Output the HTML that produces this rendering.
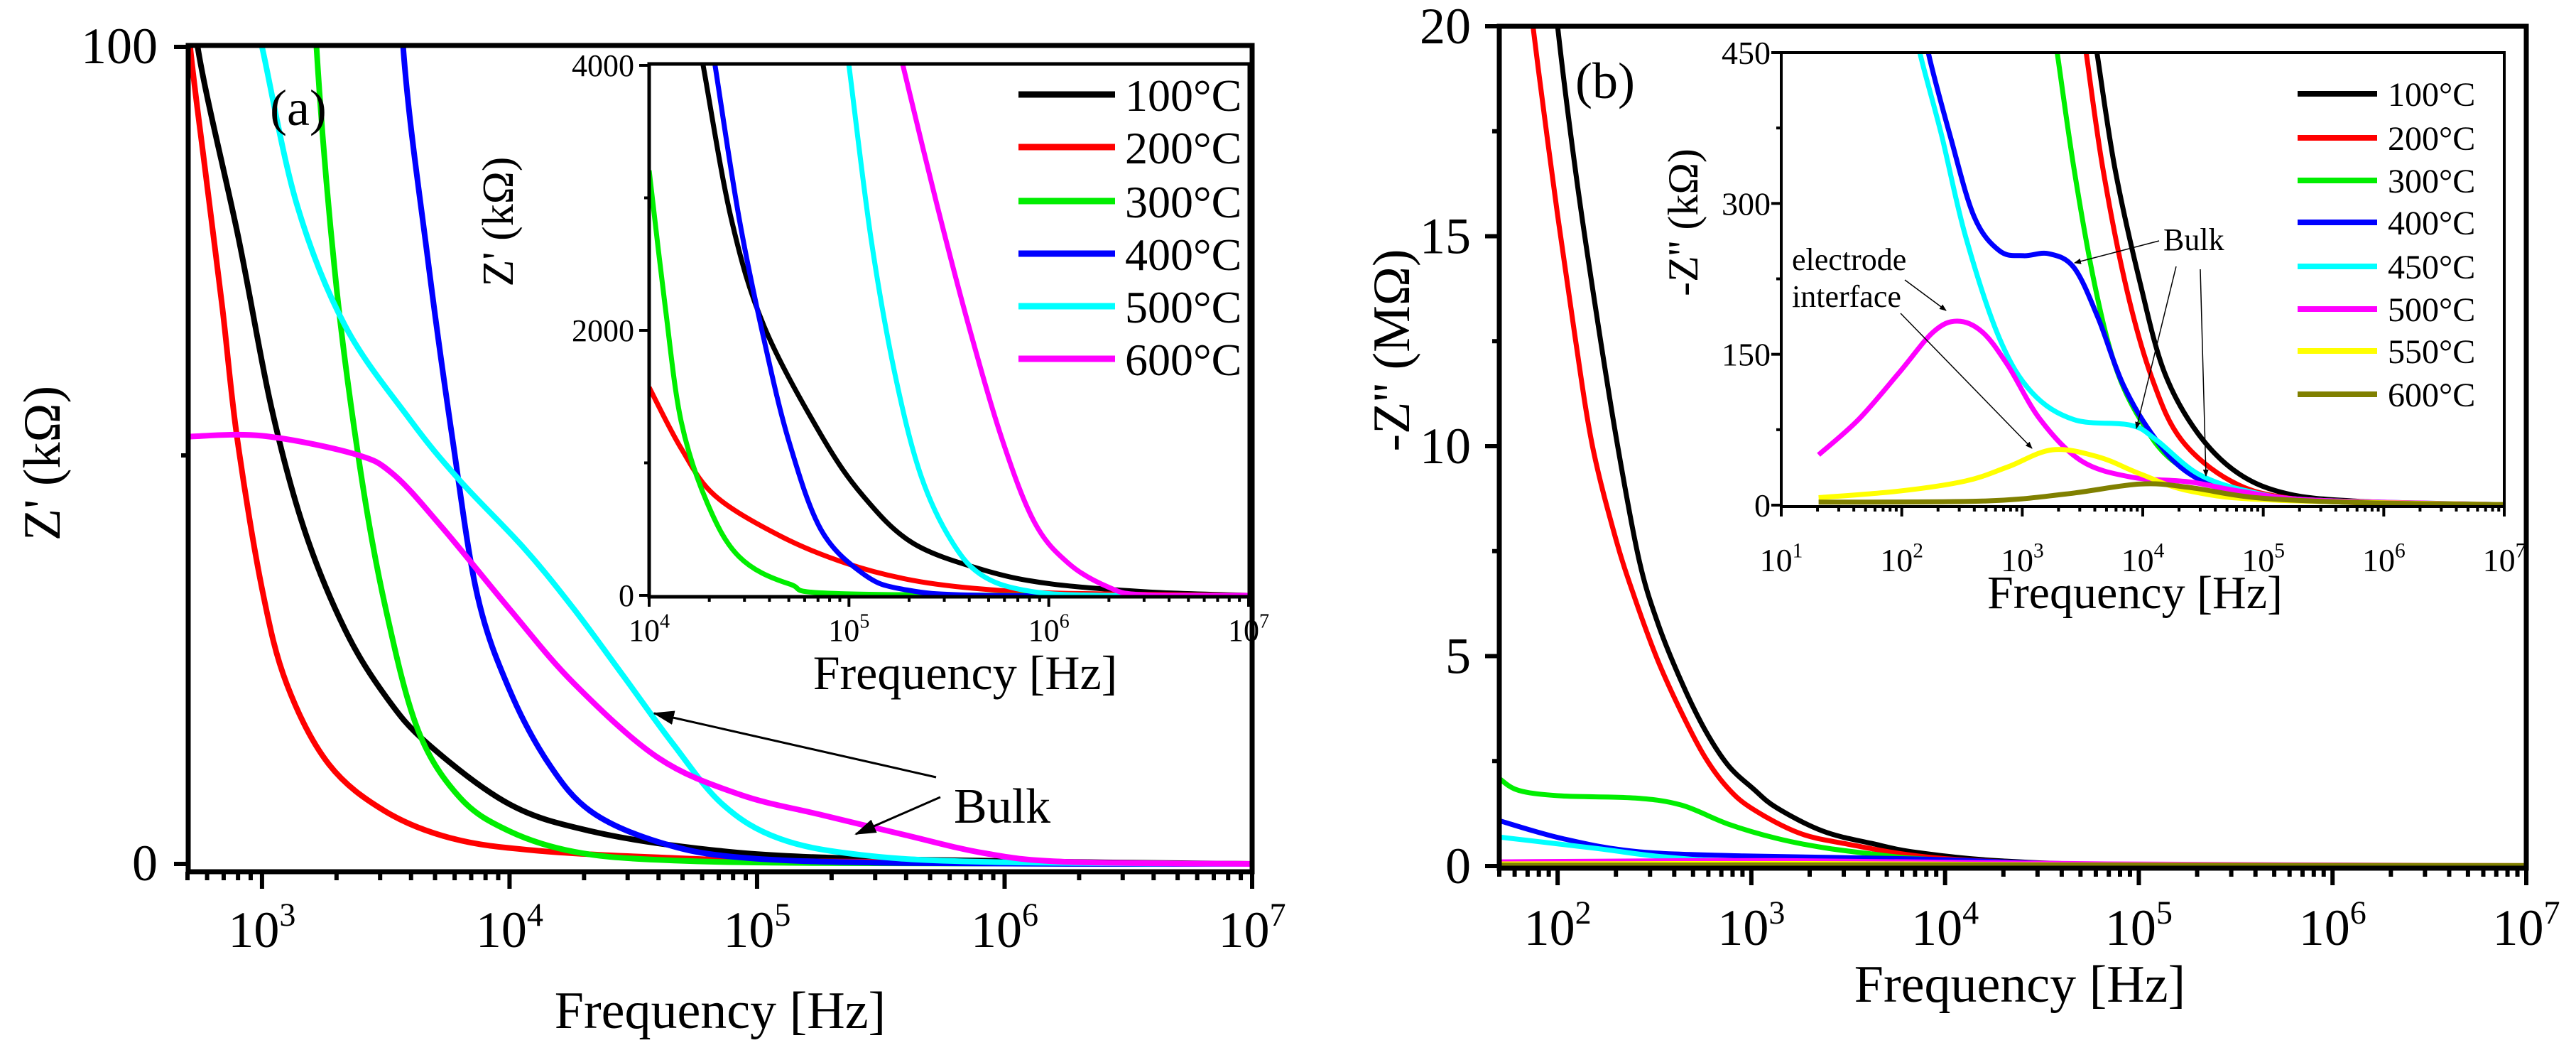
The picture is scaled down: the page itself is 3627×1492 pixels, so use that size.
<!DOCTYPE html>
<html><head><meta charset="utf-8">
<style>
html,body{margin:0;padding:0;background:#fff;}
svg{display:block;font-family:"Liberation Serif","Times New Roman",serif;}
text{font-family:"Liberation Serif","Times New Roman",serif;}
</style></head>
<body>
<svg id="fig" width="3627" height="1492" viewBox="0 0 3627 1492" xmlns="http://www.w3.org/2000/svg" font-family="Liberation Serif, serif">
<defs>
<clipPath id="clipA"><rect x="265" y="64" width="1498" height="1163"/></clipPath>
<clipPath id="clipAi"><rect x="914" y="90" width="845" height="750"/></clipPath>
<clipPath id="clipB"><rect x="2111" y="37" width="1446" height="1185"/></clipPath>
<clipPath id="clipBi"><rect x="2508" y="74" width="1018" height="639"/></clipPath>
<marker id="arr" markerWidth="10" markerHeight="8" refX="9" refY="4" orient="auto" markerUnits="userSpaceOnUse"><path d="M0,0 L10,4 L0,8 z" fill="#000"/></marker>
<marker id="arrBig" markerWidth="30" markerHeight="20" refX="28" refY="10" orient="auto" markerUnits="userSpaceOnUse"><path d="M0,0 L30,10 L0,20 z" fill="#000"/></marker>
</defs>
<g id="root" font-family="Liberation Serif, serif"></g>
</svg>
<script>
// ---------- DATA (log10 frequency, value) ----------
const colorsA = ["#000000","#ff0000","#00ee00","#0000ff","#00ffff","#ff00ff"];
const labelsA = ["100°C","200°C","300°C","400°C","500°C","600°C"];
// Panel (a) main: Z' in kOhm
const a100x=[2.70,2.74,2.905,3.037,3.17,3.335,3.50,3.67,4.0,4.33,4.76,5.26,6.25,7.0];
const a100y=[115,100,76.6,56,41,28.7,20.5,14.7,7.3,4.0,1.9,0.8,0.25,0];
const a200x=[2.69,2.71,2.77,2.84,2.90,3.0,3.1,3.27,3.5,3.77,4.1,4.6,5.26,7.0];
const a200y=[110,100,85,68,52,33.7,22,12.2,6.4,3.1,1.65,0.8,0.3,0];
const a300x=[3.18,3.22,3.30,3.40,3.50,3.63,3.80,4.0,4.26,4.6,5.26,7.0];
const a300y=[130,100,70.8,47.7,31.2,16.4,8.1,4,1.5,0.5,0.1,0];
const a400x=[3.53,3.57,3.67,3.77,3.87,4.0,4.16,4.33,4.6,4.93,5.59,7.0];
const a400y=[130,100,74,51.9,32.9,21.3,12.2,6.4,2.7,0.8,0.1,0];
const a500x=[2.95,3.0,3.14,3.335,3.60,3.80,4.06,4.26,4.46,4.66,4.86,5.09,5.42,5.92,7.0];
const a500y=[106,100,80.8,65.9,54.3,46.9,38.6,31.2,23,14.7,7.3,3.1,1.1,0.25,0];
const a600x=[2.70,3.0,3.37,3.53,3.73,4.0,4.26,4.6,4.93,5.26,5.59,5.92,6.25,7.0];
const a600y=[52.3,52.4,50.2,47.7,41.1,31.2,22.1,13,8.5,6,3.6,1.3,0.25,0];
// Panel (a) inset: Z' in kOhm
const ai100x=[4.22,4.27,4.41,4.575,4.86,5.07,5.32,5.68,6.01,6.5,7.0];
const ai100y=[4400,4000,2849,2031,1212,752,394,189,87,26,0];
const ai200x=[4.0,4.16,4.33,4.66,4.99,5.32,5.68,6.1,7.0];
const ai200y=[1570,1110,752,445,240,113,46,15,0];
const ai300x=[4.0,4.08,4.16,4.29,4.45,4.70,5.03,7.0];
const ai300y=[3207,2184,1315,700,292,87,10,0];
const ai400x=[4.30,4.33,4.45,4.575,4.70,4.86,5.07,5.27,5.68,7.0];
const ai400y=[4300,4000,2849,1928,1161,496,164,46,0,0];
const ai500x=[4.98,5.0,5.11,5.23,5.36,5.52,5.68,5.93,6.3,7.0];
const ai500y=[4200,4000,2696,1672,905,394,138,26,0,0];
const ai600x=[5.24,5.27,5.44,5.60,5.77,5.93,6.1,6.3,6.47,7.0];
const ai600y=[4200,4000,2951,2031,1161,547,240,61,5,0];
// Panel (b) main: -Z'' in MOhm
const colorsB = ["#000000","#ff0000","#00ee00","#0000ff","#00ffff","#ff00ff","#ffff00","#808000"];
const labelsB = ["100°C","200°C","300°C","400°C","450°C","500°C","550°C","600°C"];
const b100x=[1.94,2.0,2.1,2.209,2.31,2.42,2.517,2.64,2.76,2.88,3.01,3.13,3.37,3.62,3.86,4.3,5.0,7.0];
const b100y=[23,20,16.3,12.9,10.0,7.3,5.79,4.38,3.25,2.40,1.84,1.39,0.83,0.54,0.32,0.12,0.03,0];
const b200x=[1.82,1.9,2.0,2.09,2.18,2.30,2.40,2.517,2.64,2.76,2.88,3.01,3.25,3.50,3.86,4.3,5.0,7.0];
const b200y=[22,19,15.5,12.6,10.0,7.8,6.36,4.9,3.65,2.6,1.85,1.35,0.78,0.52,0.24,0.1,0.02,0];
const b300x=[1.70,1.8,2.02,2.40,2.64,2.88,3.13,3.37,3.62,3.86,4.5,7.0];
const b300y=[2.08,1.8,1.67,1.62,1.45,1.0,0.66,0.44,0.29,0.18,0.04,0];
const b400x=[1.70,2.02,2.40,2.96,3.86,4.64,5.5,7.0];
const b400y=[1.08,0.66,0.35,0.24,0.17,0.05,0.01,0];
const b450x=[1.70,2.2,2.545,3.0,4.0,5.0,7.0];
const b450y=[0.69,0.42,0.22,0.1,0.05,0.01,0];
const b500x=[1.70,3.15,4.84,7.0];
const b500y=[0.1,0.13,0.05,0.01];
const b550x=[1.70,3.3,4.6,7.0];
const b550y=[0.05,0.06,0.03,0.01];
const b600x=[1.70,4.0,5.0,7.0];
const b600y=[0.02,0.03,0.02,0.01];
// Panel (b) inset: -Z'' in kOhm
const bi100x=[3.58,3.62,3.77,3.98,4.18,4.46,4.8,5.21,5.76,6.45,7.0];
const bi100y=[480,450,334,220,132,71,31,11,4,1.3,0.5];
const bi200x=[3.49,3.53,3.67,3.87,4.08,4.32,4.73,5.21,6.1,7.0];
const bi200y=[480,450,334,213,125,65,24,7,1.3,0.5];
const bi300x=[3.25,3.29,3.43,3.60,3.77,3.98,4.25,4.73,5.42,7.0];
const bi300y=[480,450,334,220,139,85,44,14,4,0.5];
const bi400x=[2.19,2.22,2.40,2.60,2.81,3.01,3.22,3.43,3.63,3.84,4.11,4.39,4.8,5.42,7.0];
const bi400y=[480,450,368,287,253,248,250,236,186,119,65,31,11,4,0.5];
const bi450x=[2.12,2.15,2.33,2.53,2.81,3.08,3.43,3.90,4.11,4.46,4.87,5.42,7.0];
const bi450y=[480,450,368,267,166,112,85,79.5,65,31,14,5,0.5];
const bi500x=[1.31,1.64,1.98,2.26,2.46,2.67,2.88,3.15,3.49,3.90,4.39,4.8,5.42,7.0];
const bi500y=[50,85,132,172,183,172,139,85,44,28,23,14,5,0.5];
const bi550x=[1.31,1.98,2.53,2.88,3.25,3.63,3.98,4.39,5.08,7.0];
const bi550y=[7.4,14,24,38,55,48,31,14,5,0.5];
const bi600x=[1.31,2.67,3.36,3.98,4.39,4.94,5.76,7.0];
const bi600y=[3,4,11,21,17.5,7.4,2.7,0.5];

// ---------- helpers ----------
const NS="http://www.w3.org/2000/svg";
const FONT="Liberation Serif, Times New Roman, serif";
const root=document.getElementById('root');
function mk(tag,attrs,parent){const e=document.createElementNS(NS,tag);for(const k in attrs)e.setAttribute(k,attrs[k]);(parent||root).appendChild(e);return e;}
function axis(x0,x1,lf0,lf1,y0,y1,v0,v1){
  return {x:lf=>x0+(lf-lf0)/(lf1-lf0)*(x1-x0), y:v=>y0+(v-v0)/(v1-v0)*(y1-y0)};
}
function smoothPath(pts){
  let d="M"+pts[0][0].toFixed(1)+","+pts[0][1].toFixed(1);
  for(let i=0;i<pts.length-1;i++){
    const p0=pts[Math.max(0,i-1)],p1=pts[i],p2=pts[i+1],p3=pts[Math.min(pts.length-1,i+2)];
    const c1=[p1[0]+(p2[0]-p0[0])/6,p1[1]+(p2[1]-p0[1])/6];
    const c2=[p2[0]-(p3[0]-p1[0])/6,p2[1]-(p3[1]-p1[1])/6];
    d+=" C"+c1[0].toFixed(1)+","+c1[1].toFixed(1)+" "+c2[0].toFixed(1)+","+c2[1].toFixed(1)+" "+p2[0].toFixed(1)+","+p2[1].toFixed(1);
  }
  return d;
}
function series(ax,xs,ys,color,w,clip,name){
  const pts=xs.map((v,i)=>[ax.x(v),ax.y(ys[i])]);
  const p=mk('path',{d:smoothPath(pts),fill:'none',stroke:color,'stroke-width':w,'stroke-linejoin':'round','clip-path':'url(#'+clip+')'});
  
  
}
function text(x,y,str,size,anchor,name,extra){
  const t=mk('text',Object.assign({x:x,y:y,'font-size':size,'font-family':FONT,'text-anchor':anchor||'start',fill:'#000'},extra||{}));
  t.textContent=str;
  
  
  return t;
}
function powLabel(x,y,exp,size,name){
  const t=mk('text',{x:x,y:y,'font-size':size,'font-family':FONT,'text-anchor':'middle',fill:'#000'});
  
  
  const a=mk('tspan',{},t);a.textContent="10";
  const b=mk('tspan',{'font-size':size*0.64,dy:-size*0.42},t);b.textContent=String(exp);
}
function frame(l,t,r,b,w,name){
  const e=mk('rect',{x:l,y:t,width:r-l,height:b-t,fill:'none',stroke:'#000','stroke-width':w});
  
  
}
function logTicks(ax,yb,lf0,lf1,majLen,minLen,w,name){
  const g=mk('g',{stroke:'#000','stroke-width':w});
  
  
  for(let d=Math.floor(lf0);d<=Math.ceil(lf1);d++){
    for(let m=1;m<10;m++){
      const lf=d+Math.log10(m);
      if(lf<lf0-1e-6||lf>lf1+1e-6)continue;
      const x=ax.x(lf);
      mk('line',{x1:x,y1:yb,x2:x,y2:yb+(m===1?majLen:minLen)},g);
    }
  }
}
function yTicks(ax,xl,vals,minors,majLen,minLen,w,name){
  const g=mk('g',{stroke:'#000','stroke-width':w});
  
  
  vals.forEach(v=>mk('line',{x1:xl,y1:ax.y(v),x2:xl-majLen,y2:ax.y(v)},g));
  minors.forEach(v=>mk('line',{x1:xl,y1:ax.y(v),x2:xl-minLen,y2:ax.y(v)},g));
}
function arrow(x1,y1,x2,y2,w,mark,name){
  const e=mk('line',{x1:x1,y1:y1,x2:x2,y2:y2,stroke:'#000','stroke-width':w,'marker-end':mark?'url(#'+mark+')':''});
  
  
}

// ---------- Panel (a) ----------
const axA=axis(264,1763,Math.log10(500),7,1216,66,0,100);
const aX=[a100x,a200x,a300x,a400x,a500x,a600x], aY=[a100y,a200y,a300y,a400y,a500y,a600y];
aX.forEach((xs,i)=>series(axA,xs,aY[i],colorsA[i],8,'clipA','a-series-'+labelsA[i].slice(0,3)));
frame(265,64,1763,1227,7,'panel-a-frame');
logTicks(axA,1227,Math.log10(500),7,24,12,6,'panel-a-x-ticks');
yTicks(axA,265,[0,100],[50],20,10,6,'panel-a-y-ticks');
[3,4,5,6,7].forEach(e=>powLabel(axA.x(e),1333,e,72,'a-x-tick-'+e));
text(222,1239,"0",72,'end','a-y-tick-0');
text(222,89,"100",72,'end','a-y-tick-100');
text(1014,1447,"Frequency [Hz]",74,'middle','a-x-axis-title');
text(0,0,"Z' (kΩ)",74,'middle','a-y-axis-title',{transform:'translate(84,652) rotate(-90)'});
text(380,176,"(a)",72,'start','panel-a-label');
text(1343,1158,"Bulk",70,'start','a-bulk-annotation');
arrow(1318,1094,921,1004,3,'arrBig','a-bulk-arrow-1');
arrow(1324,1122,1205,1174,3,'arrBig','a-bulk-arrow-2');

// Panel (a) inset
const axAi=axis(914,1758,4,7,838,92,0,4000);
const aiX=[ai100x,ai200x,ai300x,ai400x,ai500x,ai600x], aiY=[ai100y,ai200y,ai300y,ai400y,ai500y,ai600y];
aiX.forEach((xs,i)=>series(axAi,xs,aiY[i],colorsA[i],7,'clipAi','a-inset-series-'+labelsA[i].slice(0,3)));
frame(914,90,1759,840,5,'a-inset-frame');
logTicks(axAi,840,4,7,14,7,4,'a-inset-x-ticks');
yTicks(axAi,914,[0,2000,4000],[1000,3000],14,7,4,'a-inset-y-ticks');
[4,5,6,7].forEach(e=>powLabel(axAi.x(e),902,e,44,'a-inset-x-tick-'+e));
[0,2000,4000].forEach(v=>text(893,axAi.y(v)+15,String(v),44,'end','a-inset-y-tick-'+v));
text(1359,970,"Frequency [Hz]",68,'middle','a-inset-x-axis-title');
text(0,0,"Z' (kΩ)",62,'middle','a-inset-y-axis-title',{transform:'translate(722,312) rotate(-90)'});
const legA=[133,207,283,357,431,505];
labelsA.forEach((l,i)=>{
  const ln=mk('line',{x1:1434,y1:legA[i],x2:1570,y2:legA[i],stroke:colorsA[i],'stroke-width':9});
  
  
  text(1584,legA[i]+23,l,64,'start','a-legend-entry-'+l.slice(0,3));
});

// ---------- Panel (b) ----------
const axB=axis(2111,3557,Math.log10(50),7,1219,37,0,20);
const bX=[b100x,b200x,b300x,b400x,b450x,b500x,b550x,b600x], bY=[b100y,b200y,b300y,b400y,b450y,b500y,b550y,b600y];
bX.forEach((xs,i)=>series(axB,xs,bY[i],colorsB[i],7,'clipB','b-series-'+labelsB[i].slice(0,3)));
frame(2111,37,3557,1222,7,'panel-b-frame');
logTicks(axB,1222,Math.log10(50),7,24,12,6,'panel-b-x-ticks');
yTicks(axB,2111,[0,5,10,15,20],[2.5,7.5,12.5,17.5],20,10,6,'panel-b-y-ticks');
[2,3,4,5,6,7].forEach(e=>powLabel(axB.x(e),1330,e,72,'b-x-tick-'+e));
[0,5,10,15,20].forEach(v=>text(2071,axB.y(v)+24,String(v),72,'end','b-y-tick-'+v));
text(2844,1410,"Frequency [Hz]",74,'middle','b-x-axis-title');
text(0,0,"-Z'' (MΩ)",74,'middle','b-y-axis-title',{transform:'translate(1984,493) rotate(-90)'});
text(2218,138,"(b)",72,'start','panel-b-label');

// Panel (b) inset
const axBi=axis(2508,3526,1,7,711,74,0,450);
const biX=[bi100x,bi200x,bi300x,bi400x,bi450x,bi500x,bi550x,bi600x], biY=[bi100y,bi200y,bi300y,bi400y,bi450y,bi500y,bi550y,bi600y];
biX.forEach((xs,i)=>series(axBi,xs,biY[i],colorsB[i],7,'clipBi','b-inset-series-'+labelsB[i].slice(0,3)));
frame(2508,74,3526,713,4,'b-inset-frame');
logTicks(axBi,713,1,7,14,7,4,'b-inset-x-ticks');
yTicks(axBi,2508,[0,150,300,450],[75,225,375],14,7,4,'b-inset-y-ticks');
[1,2,3,4,5,6,7].forEach(e=>powLabel(axBi.x(e),804,e,46,'b-inset-x-tick-'+e));
[0,150,300,450].forEach(v=>text(2493,axBi.y(v)+16,String(v),46,'end','b-inset-y-tick-'+v));
text(3006,856,"Frequency [Hz]",66,'middle','b-inset-x-axis-title');
text(0,0,"-Z'' (kΩ)",60,'middle','b-inset-y-axis-title',{transform:'translate(2390,313) rotate(-90)'});
const legB=[132,194,254,313,375,435,494,555];
labelsB.forEach((l,i)=>{
  const ln=mk('line',{x1:3235,y1:legB[i],x2:3347,y2:legB[i],stroke:colorsB[i],'stroke-width':8});
  
  
  text(3362,legB[i]+17,l,48,'start','b-legend-entry-'+l.slice(0,3));
});
text(3046,352,"Bulk",44,'start','b-bulk-annotation');
text(2523,380,"electrode",44,'start','b-electrode-annotation');
text(2523,432,"interface",44,'start','b-interface-annotation');
arrow(3040,339,2921,370,1.5,'arr','b-bulk-arrow-1');
arrow(3064,375,3008,603,1.5,'arr','b-bulk-arrow-2');
arrow(3098,379,3106,670,1.5,'arr','b-bulk-arrow-3');
arrow(2682,394,2740,437,1.5,'arr','b-electrode-arrow');
arrow(2676,441,2861,631,1.5,'arr','b-interface-arrow');
</script>
</body></html>
